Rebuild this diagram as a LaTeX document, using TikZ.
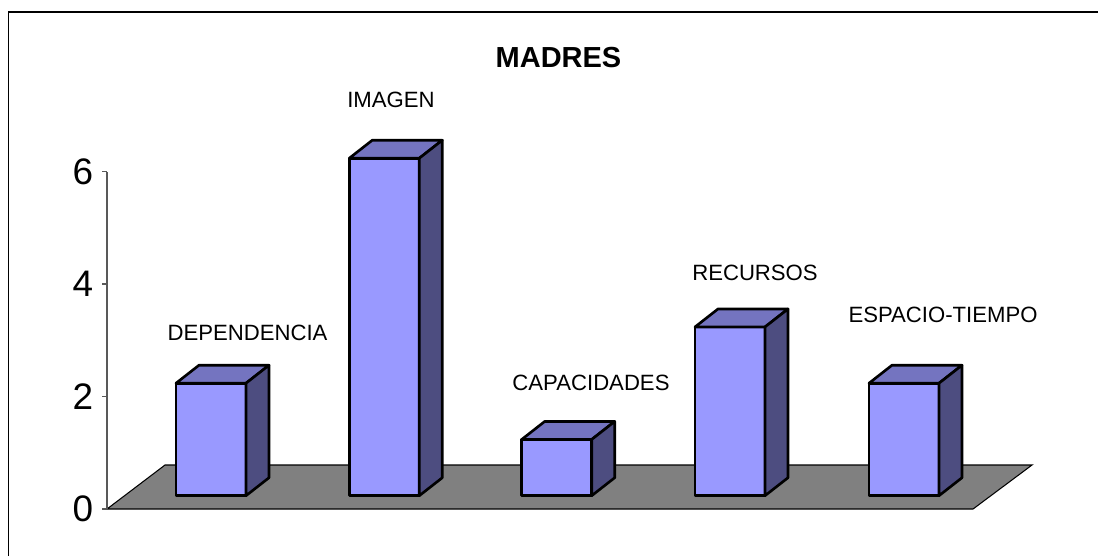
\documentclass[tikz,border=0pt]{standalone}
\usepackage{fontspec}
\setmainfont{Liberation Sans}
\usetikzlibrary{calc}
\usepackage{xcolor}
\definecolor{barfront}{RGB}{153,153,255}
\definecolor{bartop}{RGB}{116,116,192}
\definecolor{barside}{RGB}{77,77,128}
\definecolor{floorgray}{RGB}{128,128,128}
\tikzset{
  barface/.style={draw=black, line width=1.5pt, line join=round},
  barlabel/.style={inner sep=0pt, font=\fontsize{12.6}{15}\selectfont},
  ticklabel/.style={anchor=east, inner sep=0pt, font=\fontsize{21}{25}\selectfont}
}

\begin{document}
\begin{tikzpicture}[x=0.02cm, y=-0.02cm]
\useasboundingbox (0,0) rectangle (1098,556);
% frame
\draw[line width=0.9pt] (8.5,556) -- (8.5,12) -- (1098,12);
% title
\node[inner sep=0pt, font=\fontsize{16.5}{20}\selectfont\bfseries] (madres) at (558.5,57.5) {MADRES};
% floor
\filldraw[fill=floorgray, draw=black, line width=0.6pt] (107,509) -- (973,509) -- (1032,465) -- (165,465) -- cycle;
% axis
\draw[gray!70!black, line width=0.6pt] (107,509) -- (107,171.75);
\foreach \t in {0,2,4,6} {
  \draw[gray!70!black, line width=0.6pt] (102,509-\t*56.25) -- (107,509-\t*56.25);
  \node[ticklabel] (tick\t) at (93.5,509-\t*56.25) {\t};
}
% bars
\foreach \x/\v in {176/2, 349.3/6, 521.7/1, 695/3, 869/2} {
  \filldraw[barface, fill=barfront] (\x,495.7) rectangle ++(70,-\v*56.25);
  \filldraw[barface, fill=bartop] (\x,495.7-\v*56.25) -- ++(23,-18) -- ++(70,0) -- ++(-23,18) -- cycle;
  \filldraw[barface, fill=barside] (\x+70,495.7) -- ++(23,-18) -- ++(0,-\v*56.25) -- ++(-23,18) -- cycle;
}
% labels
\node[barlabel] (dependencia) at (247.5,332.5) {DEPENDENCIA};
\node[barlabel] (imagen) at (391,100) {IMAGEN};
\node[barlabel] (capacidades) at (591,383) {CAPACIDADES};
\node[barlabel] (recursos) at (755,272.5) {RECURSOS};
\node[barlabel] (espacio) at (943,315) {ESPACIO-TIEMPO};
\end{tikzpicture}
\end{document}
